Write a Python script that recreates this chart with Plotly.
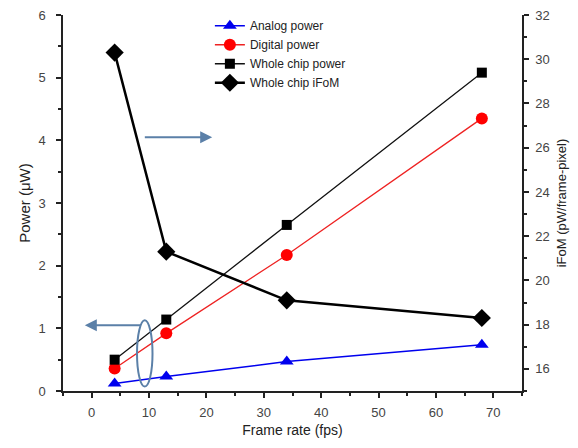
import plotly.graph_objects as go

frame_rate = [4, 13, 34, 68]
analog_power = [0.12, 0.23, 0.47, 0.74]
digital_power = [0.36, 0.92, 2.17, 4.35]
whole_chip_power = [0.50, 1.14, 2.65, 5.08]
whole_chip_ifom = [30.3, 21.3, 19.1, 18.3]

x_ticks = [0, 10, 20, 30, 40, 50, 60, 70]
y_ticks = [0, 1, 2, 3, 4, 5, 6]
y2_ticks = [16, 18, 20, 22, 24, 26, 28, 30, 32]

FONT = "Liberation Sans, Arial, sans-serif"
fig = go.Figure()
fig.add_trace(go.Scatter(x=frame_rate, y=analog_power, name="Analog power", mode="lines+markers",
                         line=dict(color="#0000ee", width=1.5),
                         marker=dict(symbol="triangle-up", size=12, color="#0000ee")))
fig.add_trace(go.Scatter(x=frame_rate, y=digital_power, name="Digital power", mode="lines+markers",
                         line=dict(color="#ee2222", width=1.3),
                         marker=dict(symbol="circle", size=12, color="#ff0000")))
fig.add_trace(go.Scatter(x=frame_rate, y=whole_chip_power, name="Whole chip power", mode="lines+markers",
                         line=dict(color="#111111", width=1.3),
                         marker=dict(symbol="square", size=10, color="#000000")))
fig.add_trace(go.Scatter(x=frame_rate, y=whole_chip_ifom, name="Whole chip iFoM", mode="lines+markers",
                         yaxis="y2",
                         line=dict(color="#000000", width=2.5),
                         marker=dict(symbol="diamond", size=14, color="#000000")))

arrow_col = "#5b80a8"
fig.add_annotation(x=21, y=4.05, ax=9.0, ay=4.05, xref="x", yref="y", axref="x", ayref="y",
                   showarrow=True, arrowhead=2, arrowsize=1.2, arrowwidth=2, arrowcolor=arrow_col, text="")
fig.add_annotation(x=-1.2, y=1.05, ax=8.8, ay=1.05, xref="x", yref="y", axref="x", ayref="y",
                   showarrow=True, arrowhead=2, arrowsize=1.2, arrowwidth=2, arrowcolor=arrow_col, text="")
fig.add_shape(type="circle", xref="x", yref="y", x0=7.9, x1=10.6, y0=0.07, y1=1.13,
              line=dict(color=arrow_col, width=2))

axis_common = dict(showline=True, linecolor="#222222", linewidth=1.5, ticks="outside",
                   tickcolor="#222222", ticklen=5, tickwidth=1.5, showgrid=False, zeroline=False,
                   automargin=False, ticklabeloverflow="allow",
                   tickfont=dict(size=13, color="#444444", family=FONT))

fig.update_layout(
    width=570, height=440,
    margin=dict(l=55, r=56, t=7, b=57, autoexpand=False),
    paper_bgcolor="white", plot_bgcolor="white",
    font=dict(family=FONT, color="#222222"),
    xaxis=dict(range=[-5, 75], tickvals=x_ticks, ticklabelstandoff=4,
               minor=dict(dtick=5, ticks="outside", ticklen=3, tickcolor="#222222"),
               title=dict(text="Frame rate (fps)", font=dict(size=14), standoff=6),
               **axis_common),
    yaxis=dict(range=[0, 6], tickvals=y_ticks, ticklabelstandoff=8,
               minor=dict(dtick=0.5, ticks="outside", ticklen=3, tickcolor="#222222"),
               title=dict(text="Power (\u03bcW)", font=dict(size=15), standoff=4),
               **axis_common),
    yaxis2=dict(range=[15, 32], tickvals=y2_ticks, overlaying="y", side="right", ticklabelstandoff=4,
                minor=dict(dtick=1, ticks="outside", ticklen=3, tickcolor="#222222"),
                title=dict(text="iFoM (pW/frame-pixel)", font=dict(size=13), standoff=8),
                **axis_common),
    legend=dict(x=0.32, y=1.01, xanchor="left", yanchor="top", bgcolor="rgba(0,0,0,0)",
                font=dict(size=12, family=FONT, color="#222222"), itemwidth=30,
                tracegroupgap=0),
    showlegend=True,
)

fig.write_html("out.html")
